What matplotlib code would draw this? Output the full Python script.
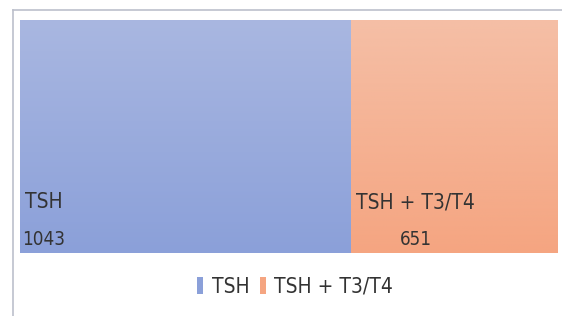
import numpy as np
import matplotlib
matplotlib.use("Agg")
from matplotlib import pyplot as plt
from matplotlib.patches import Patch
from matplotlib.lines import Line2D

categories = ["TSH", "TSH + T3/T4"]
values = [1043, 651]
top_colors = ["#a9b7e1", "#f5bfa6"]
bottom_colors = ["#8ba0d9", "#f5a581"]

plt.rcParams["font.family"] = ["DejaVu Sans"]
plt.rcParams["font.stretch"] = "condensed"


def gradient(c_top, c_bot, n=256):
    a = np.array(matplotlib.colors.to_rgb(c_top))
    b = np.array(matplotlib.colors.to_rgb(c_bot))
    t = np.linspace(0, 1, n)[:, None]
    return (a * (1 - t) + b * t)[:, None, :]


def main():
    W, H = 562, 316
    fig = plt.figure(figsize=(W / 100, H / 100), dpi=100)
    fig.patch.set_facecolor("white")

    # treemap area in pixels
    x0, x1, y0, y1 = 20, 558, 20, 253
    ax = fig.add_axes([x0 / W, 1 - y1 / H, (x1 - x0) / W, (y1 - y0) / H])
    total = sum(values)
    ax.axis("off")

    left = 0
    for cat, v, ct, cb in zip(categories, values, top_colors, bottom_colors):
        ax.imshow(gradient(ct, cb), extent=(left, left + v, 0, 1), aspect="auto",
                  origin="upper", zorder=1)
        lbl = ax.annotate(cat, xy=(left, 0), xytext=(5, 45), textcoords="offset pixels",
                          ha="left", va="baseline", fontsize=15, color="#333333",
                          fontstretch="condensed", zorder=3)
        ax.annotate(str(v), xy=(0.5, 0), xycoords=lbl, xytext=(0, -33),
                    textcoords="offset pixels", ha="center", va="baseline",
                    fontsize=13.5, color="#333333", fontstretch="condensed", zorder=3)
        left += v
    ax.set_xlim(0, total)
    ax.set_ylim(0, 1)

    # outer frame lines
    fig.add_artist(Line2D([13 / W, 1], [1 - 10 / H, 1 - 10 / H], color="#bcc0cc", lw=1.2))
    fig.add_artist(Line2D([13 / W, 13 / W], [0, 1 - 10 / H], color="#bcc0cc", lw=1.2))

    handles = [Patch(facecolor=c, edgecolor="none") for c in bottom_colors]
    fig.legend(handles, categories, loc="center", bbox_to_anchor=(0.525, 1 - 287 / H),
               ncol=2, frameon=False, handlelength=0.3, handleheight=0.9,
               handletextpad=0.4, columnspacing=0.5, labelcolor="#333333",
               prop={"stretch": "condensed", "size": 15})

    fig.savefig("out.png", dpi=100)


if __name__ == "__main__":
    main()
